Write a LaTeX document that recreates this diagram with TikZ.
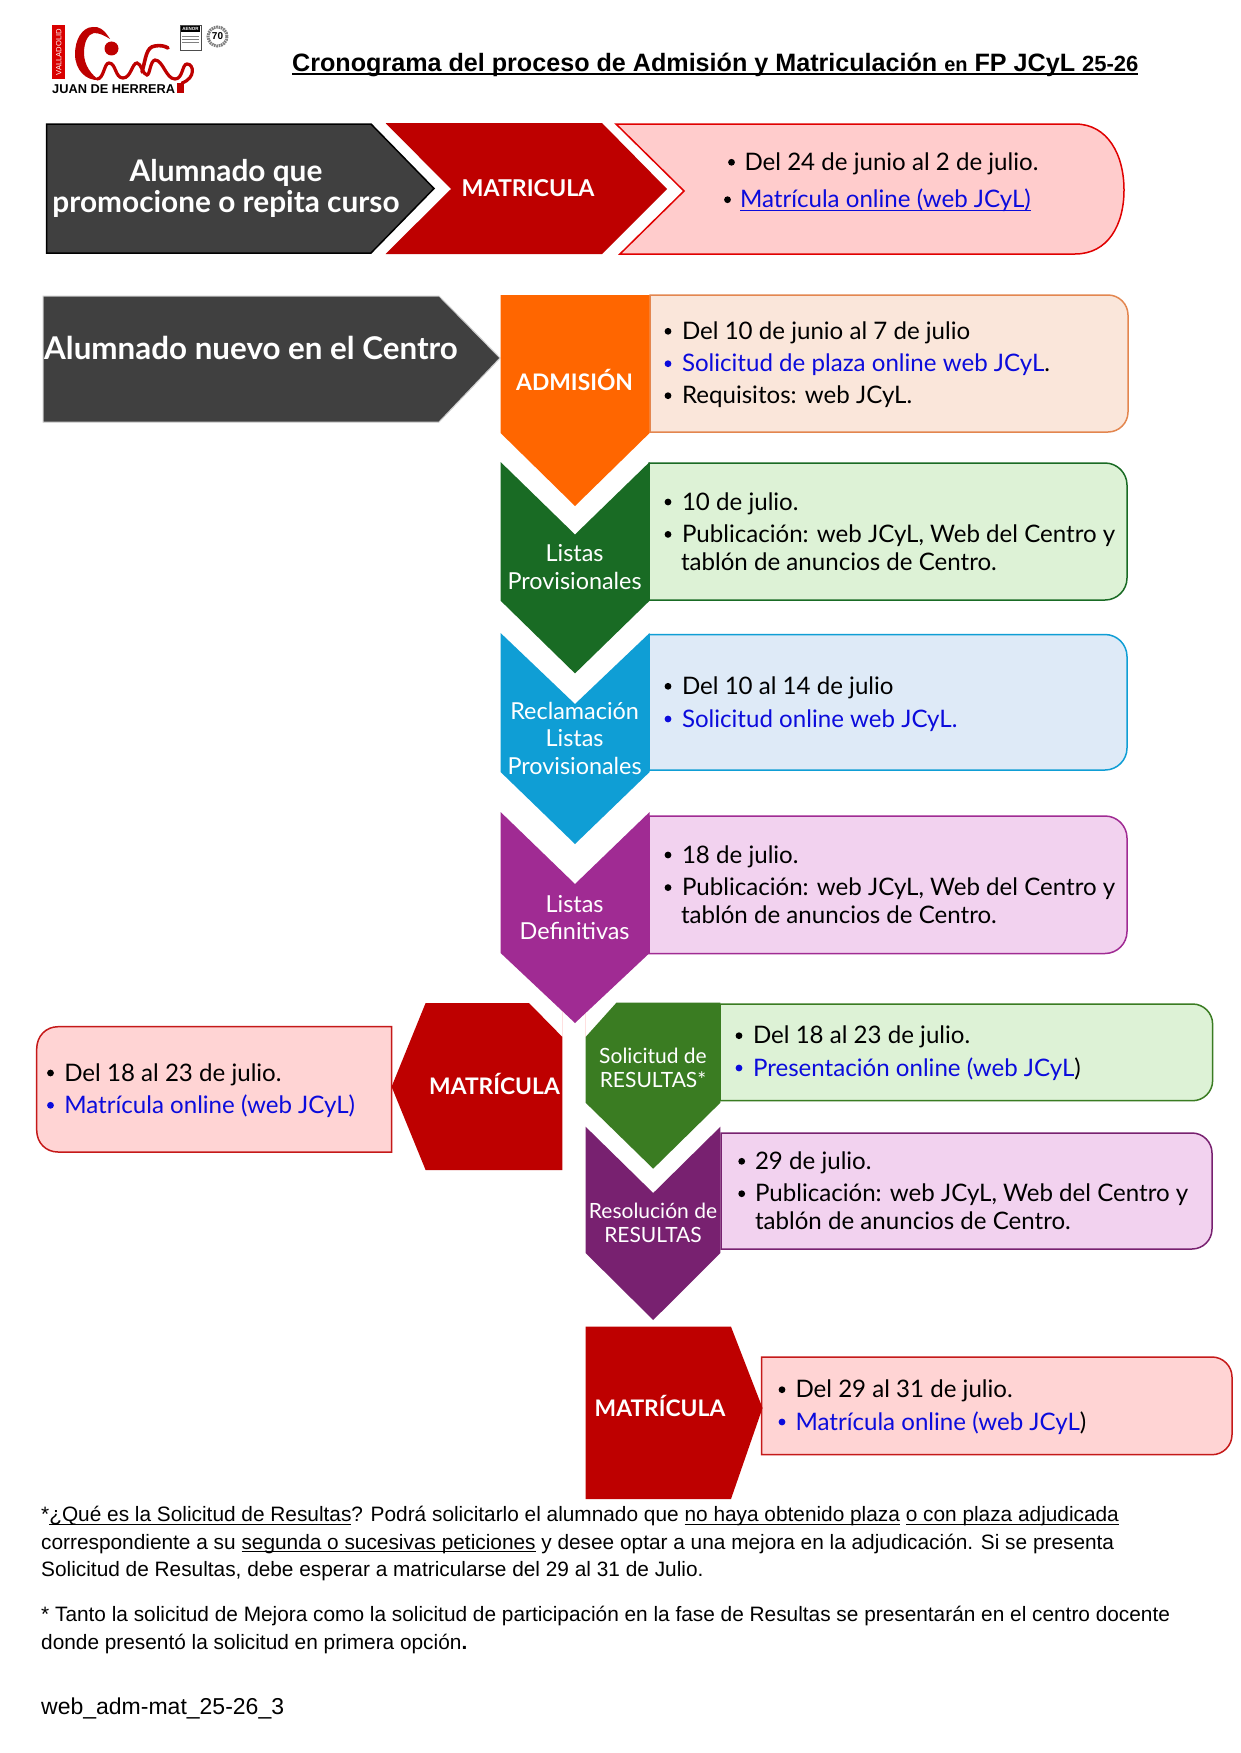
\documentclass[tikz,border=0pt]{standalone}
\usepackage{fontspec}
\setmainfont{Liberation Sans}
\newfontfamily\apt{Lato}
\definecolor{cdark}{HTML}{404040}
\definecolor{cred}{HTML}{BE0000}
\definecolor{corange}{HTML}{FF6600}
\definecolor{cgreen}{HTML}{196B24}
\definecolor{csky}{HTML}{0F9ED5}
\definecolor{cviolet}{HTML}{A02B93}
\definecolor{cgreenb}{HTML}{3A7C22}
\definecolor{cplum}{HTML}{782170}
\definecolor{tpink}{HTML}{FFCCCC}
\definecolor{tpeach}{HTML}{FAE6DA}
\definecolor{bpeach}{HTML}{E3864F}
\definecolor{tgreen}{HTML}{DDF2D6}
\definecolor{tsky}{HTML}{DEEAF7}
\definecolor{tviolet}{HTML}{F2D2EF}
\definecolor{clink}{HTML}{0B0BDC}
\newcommand\fs[1]{\fontsize{#1}{#1}\selectfont}
\newcommand\uln[1]{\setbox0\hbox{#1}\rlap{\rule[-3pt]{\wd0}{1.1pt}}\box0{}}
\newcommand\ulnt[1]{\setbox0\hbox{#1}\rlap{\rule[-4.2pt]{\wd0}{2.1pt}}\box0{}}
\tikzset{
  body/.style={anchor=base west,inner sep=0pt,outer sep=0pt,yshift=-1pt,font=\apt\fs{24.1},text=black},
  dot/.style={circle,fill,inner sep=0pt,minimum size=6.8pt},
  head/.style={anchor=base,inner sep=0pt,yshift=-1pt,text=white,font=\apt\bfseries\fs{22.8}},
  big/.style={anchor=base,inner sep=0pt,yshift=-1pt,text=white,font=\apt\bfseries\fs{29.8}},
  lab/.style={anchor=base,inner sep=0pt,yshift=-.5pt,text=white,font=\apt\fs{23.4}},
  labs/.style={anchor=base,inner sep=0pt,yshift=-.5pt,text=white,font=\apt\fs{21}},
  note/.style={anchor=base west,inner sep=0pt,font=\fs{20.83},text=black},
}
% box with rounded right corners: style, L, T, R, B, r
\newcommand\rbox[6]{\path[#1] (#2,#3) -- ({#4-#6},#3) .. controls ({#4-0.45*#6},#3) and (#4,{#3+0.45*#6}) .. (#4,{#3+#6}) -- (#4,{#5-#6}) .. controls (#4,{#5-0.45*#6}) and ({#4-0.45*#6},#5) .. ({#4-#6},#5) -- (#2,#5) -- cycle;}
\newcommand\bul[6]{% name, bullet x, text x, baseline, colour, text
  \node[dot,text=#5,fill=#5] (#1b) at (#2,{#4-7}) {};
  \node[body,text=#5] (#1) at (#3,#4) {#6};}
\begin{document}
\begin{tikzpicture}[x=1pt,y=-1pt]
\useasboundingbox (0,0) rectangle (1240,1753);
\fill[white] (0,0) rectangle (1240,1753);

% logo
\fill[red!85!black] (52,25) rectangle (65,79);
\node[rotate=90,text=white,inner sep=0pt,font=\fs{7.6}] (logov) at (58.7,52) {VALLADOLID};
\fill[cred] (110,39) .. controls (104,29) and (98,26) .. (93,27) .. controls (82,27) and (75,40) .. (75,54) .. controls (75,70) and (86,81) .. (99,80) .. controls (92,75) and (84,66) .. (84,53) .. controls (84,42) and (88,34) .. (94,33) .. controls (100,33) and (105,36) .. (110,39) -- cycle;
\draw[cred,line width=3.2pt,line cap=round] (97,79) .. controls (104,79) and (104,63) .. (109,63) .. controls (116,63) and (115,78) .. (123,78) .. controls (131,78) and (132,63) .. (137,63) .. controls (141,63) and (143,75) .. (147,75) .. controls (150,75) and (150,61) .. (155,60) .. controls (163,60) and (166,79) .. (175,79) .. controls (183,79) and (182,64) .. (187,64) .. controls (194,64) and (196,78) .. (182,83);
\draw[cred,line width=3.6pt,line cap=round] (142,72) .. controls (146,58) and (146,47) .. (155,46) .. controls (160,45) and (165,46) .. (168,48);
\fill[cred] (111.5,48.5) circle (7);
\fill[cred] (177,83) rectangle (184,93);
\node[anchor=base west,inner sep=0pt,font=\bfseries\fs{12.8}] (logon) at (52,93.5) {JUAN DE HERRERA};
\draw[black!70,line width=.6pt,fill=white] (180,25) rectangle (201,50);
\fill[black] (181,26) rectangle (200,32);
\node[text=white,inner sep=0pt,font=\bfseries\fs{4.5}] (logoa) at (190.5,29) {AENOR};
\draw[gray,line width=.5pt] (182,36) -- (199,36) (182,39) -- (199,39) (182,42) -- (199,42);
\draw[gray,line width=3pt,dash pattern=on 1.6pt off .8pt] (217.5,36.5) circle (9.5);
\node[inner sep=0pt,font=\bfseries\fs{10}] (logos) at (217.5,36.5) {70};

% title
\node[anchor=base west,inner sep=0pt,font=\bfseries\fs{25.13}] (title) at (292,71)
  {\ulnt{Cronograma del proceso de Admisión y Matriculación {\fs{20}en} FP JCyL {\fs{22}25-26}}};

% first row
\fill[cdark,draw=black,line width=1.5pt] (46.5,124) -- (371,124) -- (434,188.5) -- (371,253) -- (46.5,253) -- cycle;
\fill[cred] (385.5,123) -- (602,123) -- (667,189) -- (602,254) -- (385.5,254) -- (451,189) -- cycle;
\path[fill=tpink,draw=red!88!black,line width=1.5pt] (616,124) -- (1075,124) .. controls (1108,124) and (1124,155) .. (1124,190) .. controls (1124,225) and (1108,254) .. (1075,254) -- (620,254) -- (684,191) -- cycle;
\node[big] (a1) at (226,180) {Alumnado que};
\node[big] (a2) at (226,211) {promocione o repita curso};
\node[head,font=\apt\bfseries\fs{23.2}] (m1) at (528,195) {MATRICULA};
\bul{p1}{731.5}{744.5}{169.3}{black}{Del 24 de junio al 2 de julio.}
\bul{p2}{727.5}{740}{206.7}{black}{\color{clink}\uln{Matrícula online (web JCyL)}}

% second block: info boxes
\rbox{fill=tpeach,draw=bpeach,line width=1.5pt}{650}{295}{1128}{432}{20}
\rbox{fill=tgreen,draw=cgreen,line width=1.5pt}{649}{463}{1127}{600}{22}
\rbox{fill=tsky,draw=csky,line width=1.5pt}{649}{634.5}{1127}{770}{22}
\rbox{fill=tviolet,draw=cviolet,line width=1.5pt}{649}{816}{1127}{953.5}{22}

% arrow new students
\path[fill=cdark,draw=black!20,line width=1pt] (43,296) -- (439,296) -- (500,358) -- (439,422) -- (43,422) -- cycle;
\node[big,anchor=base west,font=\apt\bfseries\fs{31.35}] (a3) at (44,358) {Alumnado nuevo en el Centro};

% faint edges beside the tip
\draw[red!12,line width=.6pt] (562.4,1003) -- (562.4,1037) (585.6,1003) -- (585.6,1037);

% chevrons
\fill[corange] (500.6,295) -- (649.6,295) -- (649.6,433) -- (575,506) -- (500.6,433) -- cycle;
\fill[cgreen] (500.6,462) -- (575,534.5) -- (649.6,462) -- (649.6,600.7) -- (575,673.4) -- (500.6,600.7) -- cycle;
\fill[csky] (500.6,633) -- (575,704) -- (649.6,633) -- (649.6,772) -- (575,844) -- (500.6,772) -- cycle;
\fill[cviolet] (500.6,812) -- (575,884) -- (649.6,812) -- (649.6,953) -- (575,1023) -- (500.6,953) -- cycle;

\node[head] (n1) at (574.6,389) {ADMISIÓN};
\node[lab] (n2) at (574.6,561) {Listas};
\node[lab] (n3) at (574.6,588.5) {Provisionales};
\node[lab] (n4) at (574.6,718.6) {Reclamación};
\node[lab] (n5) at (574.6,746) {Listas};
\node[lab] (n6) at (574.6,773.7) {Provisionales};
\node[lab] (n7) at (574.6,911.5) {Listas};
\node[lab] (n8) at (574.6,938.7) {Definitivas};

\bul{b1}{668}{682}{338.3}{black}{Del 10 de junio al 7 de julio}
\bul{b2}{668}{682}{370.7}{clink}{Solicitud de plaza online web JCyL{\color{black}.}}
\bul{b3}{668}{682}{402.7}{black}{Requisitos: web JCyL.}
\bul{c1}{668}{682}{509}{black}{10 de julio.}
\bul{c2}{668}{682}{541.4}{black}{Publicación: web JCyL, Web del Centro y}
\node[body] (c3) at (681,569) {tablón de anuncios de Centro.};
\bul{d1}{668}{682}{693.3}{black}{Del 10 al 14 de julio}
\bul{d2}{668}{682}{726}{clink}{Solicitud online web JCyL.}
\bul{e1}{668}{682}{862}{black}{18 de julio.}
\bul{e2}{668}{682}{894.6}{black}{Publicación: web JCyL, Web del Centro y}
\node[body] (e3) at (681,922) {tablón de anuncios de Centro.};

% left matricula
\path[fill=tpink!85!white,draw=cred!90!white,line width=1.5pt] (391.6,1026.7) -- (391.6,1152) -- (58,1152) .. controls (46,1152) and (36.7,1143) .. (36.7,1130) -- (36.7,1049) .. controls (36.7,1036) and (46,1026.7) .. (58,1026.7) -- cycle;
\fill[cred] (391.6,1086.7) -- (425.6,1003) -- (529,1003) -- (562.4,1037) -- (562.4,1170) -- (425.6,1170) -- cycle;
\node[head] (m2) at (494.5,1093.3) {MATRÍCULA};
\bul{f1}{50.5}{64.3}{1080}{black}{Del 18 al 23 de julio.}
\bul{f2}{50.5}{64.3}{1112.3}{clink}{Matrícula online (web JCyL)}

% results boxes
\rbox{fill=tgreen,draw=cgreenb,line width=1.5pt}{720}{1004}{1212.6}{1100.7}{20}
\rbox{fill=tviolet,draw=cplum,line width=1.5pt}{721}{1133}{1212}{1249}{20}
\fill[cgreenb] (616.4,1002.7) -- (720.4,1002.7) -- (720.4,1102.7) -- (653.2,1168.7) -- (585.6,1102.7) -- (585.6,1037) -- cycle;
\fill[cplum] (585.6,1126.7) -- (653.2,1193) -- (720.4,1126.7) -- (720.4,1253) -- (653.2,1320) -- (585.6,1253) -- cycle;
\node[labs] (r1) at (653,1062.7) {Solicitud de};
\node[labs] (r2) at (653,1087.3) {RESULTAS*};
\node[labs] (r3) at (653,1218.3) {Resolución de};
\node[labs] (r4) at (653,1242.3) {RESULTAS};
\bul{g1}{739}{753}{1042.7}{black}{Del 18 al 23 de julio.}
\bul{g2}{739}{753}{1075}{clink}{Presentación online (web JCyL{\color{black})}}
\bul{h1}{741.7}{755}{1168.3}{black}{29 de julio.}
\bul{h2}{741.7}{755}{1200.7}{black}{Publicación: web JCyL, Web del Centro y}
\node[body] (h3) at (755,1228.3) {tablón de anuncios de Centro.};

% last matricula
\rbox{fill=tpink!85!white,draw=cred!90!white,line width=1.5pt}{761.6}{1357}{1232}{1454.7}{20}
\fill[cred] (585.6,1326.7) -- (731,1326.7) -- (762.5,1408) -- (731,1499) -- (585.6,1499) -- cycle;
\node[head] (m3) at (660,1415.7) {MATRÍCULA};
\bul{k1}{782}{795.5}{1396.7}{black}{Del 29 al 31 de julio.}
\bul{k2}{782}{795.5}{1429}{clink}{Matrícula online (web JCyL{\color{black})}}

% notes
\node[note] (s1) at (41,1521.7) {*\uln{¿Qué es la Solicitud de Resultas}? Podrá solicitarlo el alumnado que \uln{no haya obtenido plaza} \uln{o con plaza adjudicada}};
\node[note] (s2) at (41,1549) {correspondiente a su \uln{segunda o sucesivas peticiones} y desee optar a una mejora en la adjudicación. Si se presenta};
\node[note] (s3) at (41,1576.7) {Solicitud de Resultas, debe esperar a matricularse del 29 al 31 de Julio.};
\node[note] (s4) at (41,1621.5) {* Tanto la solicitud de Mejora como la solicitud de participación en la fase de Resultas se presentarán en el centro docente};
\node[note] (s5) at (41,1649) {donde presentó la solicitud en primera opción\textbf{.}};
\node[note,font=\fs{23}] (s6) at (41,1714) {web\_adm-mat\_25-26\_3};
\end{tikzpicture}
\end{document}
